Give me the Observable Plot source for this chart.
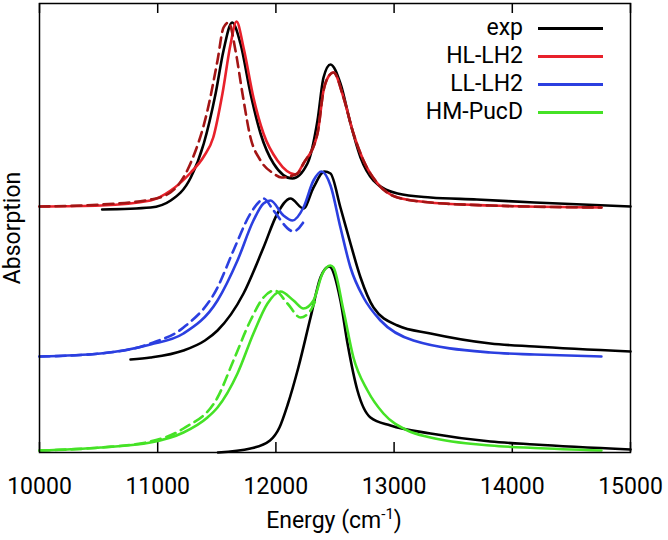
<!DOCTYPE html>
<html><head><meta charset="utf-8">
<script src="https://cdn.jsdelivr.net/npm/d3@7"></script>
<script src="https://cdn.jsdelivr.net/npm/@observablehq/plot@0.6"></script>
<style>
body{margin:0;background:#fff;font-family:Roboto,sans-serif;}
#wrap{position:relative;width:668px;height:540px;}
.lrow{position:absolute;height:28px;line-height:28px;font-size:23px;color:#000;}
.ltext{position:absolute;right:0;top:0;white-space:nowrap;}
.lline{position:absolute;height:0;border-top:3px solid #000;}
#xlab{position:absolute;left:0;width:668px;text-align:center;font-size:23px;top:506px;line-height:30px;color:#000;}
#xlab sup{font-size:15px;vertical-align:0;position:relative;top:-9px;}
</style></head><body><div id="wrap"></div>
<script>
// ---- data (energy in cm^-1, absorption in arbitrary offset units) ----
const xTicks = [10000, 11000, 12000, 13000, 14000, 15000];
const seriesNames = ["exp", "HL-LH2", "LL-LH2", "HM-PucD"];
const seriesColors = ["#000000", "#e8212b", "#2b3fe0", "#45e226"];
const dashedColors = ["#a31515", "#2b3fe0", "#45e226"];

// top group: HL-LH2
const expHL = [[10530,2.43],[10940,2.45],[11110,2.52],[11280,2.75],[11390,3.09],[11490,3.59],[11557,4.02],[11630,4.30],[11700,4.09],[11785,3.59],[11870,3.19],[11980,2.89],[12140,2.74],[12267,2.89],[12352,3.32],[12403,3.75],[12462,3.88],[12546,3.69],[12631,3.29],[12716,2.95],[12826,2.72],[13029,2.59],[13308,2.55],[13700,2.53],[14188,2.50],[15000,2.46]];
const calcHL = [[10000,2.46],[10520,2.47],[10940,2.52],[11110,2.62],[11280,2.80],[11390,2.96],[11470,3.15],[11548,3.59],[11616,4.08],[11667,4.31],[11726,4.05],[11810,3.55],[11895,3.19],[12013,2.92],[12166,2.78],[12233,2.89],[12352,3.19],[12403,3.62],[12445,3.76],[12487,3.80],[12572,3.55],[12656,3.19],[12741,2.92],[12860,2.69],[13029,2.55],[13308,2.50],[13815,2.47],[14754,2.45]];
const calcHLdash = [[10000,2.46],[10520,2.48],[10940,2.53],[11108,2.60],[11277,2.89],[11421,3.42],[11506,3.92],[11557,4.25],[11600,4.30],[11658,4.02],[11717,3.59],[11785,3.15],[11870,2.92],[11980,2.79],[12047,2.75],[12183,2.79],[12233,2.89],[12352,3.19],[12403,3.62],[12445,3.76],[12487,3.80],[12572,3.55],[12656,3.19],[12741,2.92],[12860,2.69],[13029,2.55],[13308,2.50],[13815,2.47],[14754,2.45]];

// middle group: LL-LH2
const expLL = [[10770,0.93],[10939,0.95],[11218,1.02],[11400,1.12],[11506,1.22],[11726,1.59],[11895,2.05],[12013,2.39],[12123,2.54],[12233,2.44],[12318,2.65],[12411,2.81],[12462,2.79],[12546,2.45],[12631,2.09],[12716,1.75],[12826,1.45],[13029,1.27],[13308,1.19],[13815,1.09],[14188,1.06],[15000,1.01]];
const calcLL = [[10000,0.96],[10516,0.99],[10939,1.08],[11218,1.19],[11506,1.52],[11675,1.92],[11810,2.32],[11895,2.49],[11954,2.52],[12064,2.37],[12140,2.32],[12233,2.45],[12318,2.72],[12386,2.81],[12462,2.67],[12546,2.25],[12631,1.85],[12741,1.55],[12885,1.32],[13164,1.12],[13815,1.00],[14188,0.98],[14754,0.96]];
const calcLLdash = [[10000,0.96],[10516,0.99],[10939,1.09],[11218,1.25],[11506,1.65],[11641,2.02],[11785,2.39],[11870,2.52],[11895,2.54],[11980,2.42],[12123,2.22],[12145,2.21],[12225,2.29],[12250,2.34]];

// bottom group: HM-PucD
const expHM = [[11510,0.00],[11785,0.04],[11950,0.12],[12030,0.25],[12100,0.48],[12190,0.85],[12293,1.35],[12377,1.75],[12450,1.86],[12546,1.52],[12606,1.09],[12690,0.62],[12800,0.35],[12970,0.27],[13308,0.19],[13815,0.11],[14188,0.08],[15000,0.03]];
const calcHM = [[10000,0.02],[10516,0.05],[10939,0.10],[11218,0.20],[11421,0.35],[11506,0.45],[11675,0.79],[11810,1.19],[11929,1.49],[12039,1.61],[12149,1.52],[12233,1.44],[12318,1.52],[12394,1.79],[12462,1.87],[12487,1.85],[12572,1.42],[12656,0.95],[12775,0.62],[12910,0.39],[13113,0.22],[13308,0.15],[13815,0.07],[14188,0.045],[14754,0.02]];
const calcHMdash = [[10000,0.02],[10516,0.05],[10939,0.11],[11218,0.24],[11506,0.55],[11641,0.92],[11785,1.32],[11895,1.55],[11988,1.62],[12098,1.49],[12208,1.35],[12293,1.42],[12335,1.52]];

// ---- chart ----
const lw = 2.6;
const solid = (data, color) => Plot.line(data, {x: d => d[0], y: d => d[1], stroke: color, strokeWidth: lw, curve: "monotone-x"});
const dashed = (data, color) => Plot.line(data, {x: d => d[0], y: d => d[1], stroke: color, strokeWidth: lw, strokeDasharray: "10,6", curve: "monotone-x"});

const chart = Plot.plot({
  width: 668, height: 540,
  marginLeft: 39, marginRight: 38, marginTop: 3, marginBottom: 88,
  style: {fontFamily: "Roboto", fontSize: "23px", color: "#000", background: "#fff"},
  x: {domain: [10000, 15000]},
  y: {domain: [0, 4.49], axis: null},
  marks: [
    // inward ticks along bottom and top edges
    Plot.ruleX(xTicks, {stroke: "#000", strokeWidth: 1.5, insetTop: 439}),
    Plot.ruleX(xTicks, {stroke: "#000", strokeWidth: 1.5, insetBottom: 439}),
    Plot.axisX(xTicks, {anchor: "bottom", tickSize: 0, tickPadding: 25, tickFormat: d3.format("d"), label: null, fontSize: 23}),
    Plot.text(["Absorption"], {frameAnchor: "left", textAnchor: "middle", rotate: -90, dx: -27, fontSize: 23, fill: "#000"}),
    solid(expHL, seriesColors[0]),
    solid(calcHL, seriesColors[1]),
    dashed(calcHLdash, dashedColors[0]),
    solid(expLL, seriesColors[0]),
    solid(calcLL, seriesColors[2]),
    dashed(calcLLdash, dashedColors[1]),
    solid(expHM, seriesColors[0]),
    solid(calcHM, seriesColors[3]),
    dashed(calcHMdash, dashedColors[2]),
    Plot.frame({stroke: "#000", strokeWidth: 1.5})
  ]
});
const wrap = document.getElementById("wrap");
wrap.appendChild(chart);

// legend (inside plot, top right)
seriesNames.forEach((name, i) => {
  const row = document.createElement("div");
  row.className = "lrow";
  row.style.left = "380px";
  row.style.width = "143px";
  row.style.top = (14 + 28 * i) + "px";
  const t = document.createElement("span");
  t.className = "ltext";
  t.textContent = name;
  row.appendChild(t);
  wrap.appendChild(row);
  const ln = document.createElement("div");
  ln.className = "lline";
  ln.style.left = "538px";
  ln.style.width = "65px";
  ln.style.top = (27 + 28 * i) + "px";
  ln.style.borderTopColor = seriesColors[i];
  wrap.appendChild(ln);
});

// x-axis label with superscript
const xl = document.createElement("div");
xl.id = "xlab";
xl.innerHTML = "Energy (cm<sup>-1</sup>)";
wrap.appendChild(xl);
</script>
</body></html>
